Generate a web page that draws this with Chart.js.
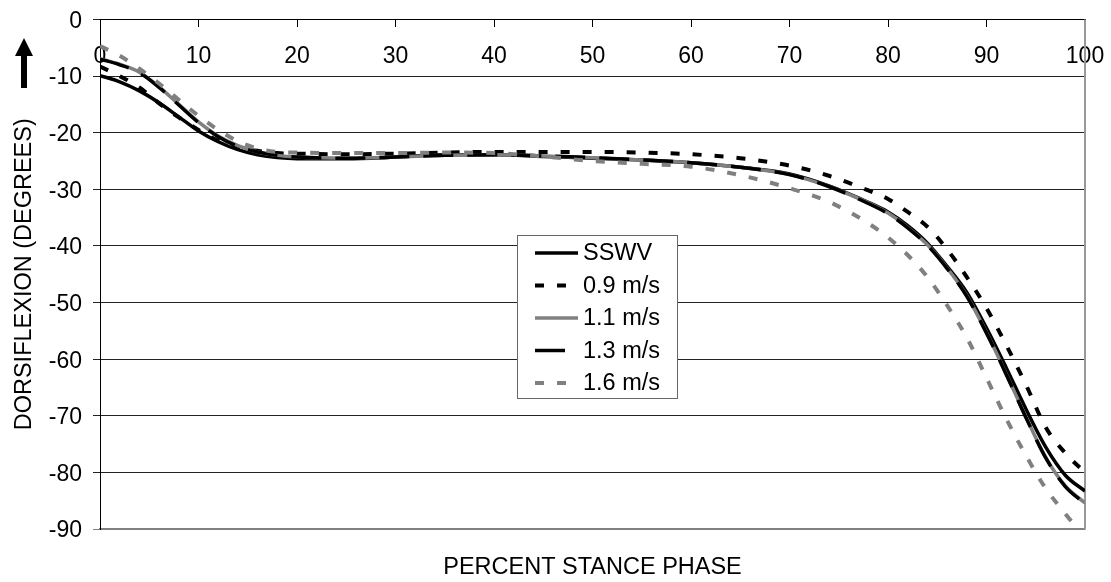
<!DOCTYPE html>
<html>
<head>
<meta charset="utf-8">
<script src="https://cdn.jsdelivr.net/npm/chart.js@4.4.1/dist/chart.umd.min.js"></script>
<style>
  html, body { margin: 0; padding: 0; background: #fff; }
</style>
</head>
<body>
<canvas id="grafico" width="1111" height="582"></canvas>
<script>
// DATOS
const pct = [0, 2, 4, 6, 8, 10, 12, 14, 16, 18, 20, 25, 30, 35, 40, 45, 50, 55, 60, 65, 70, 74, 78, 80, 82, 84, 86, 88, 90, 92, 94, 96, 98, 100];

const sswv = [-9.9, -11.0, -12.6, -14.7, -17.2, -19.7, -21.6, -23.0, -23.9, -24.4, -24.6, -24.6, -24.3, -23.9, -23.9, -24.2, -24.5, -24.8, -25.3, -26.1, -27.3, -29.4, -32.3, -34.0, -36.4, -39.5, -43.6, -48.2, -54.5, -61.5, -68.8, -75.5, -80.5, -83.3];
const v09 = [-8.3, -10.0, -12.0, -14.8, -17.3, -19.5, -21.4, -22.6, -23.2, -23.6, -23.7, -23.8, -23.7, -23.5, -23.4, -23.4, -23.4, -23.5, -23.8, -24.5, -25.8, -27.6, -30.2, -31.7, -34.0, -36.6, -40.6, -45.5, -51.0, -57.5, -64.5, -72.0, -76.6, -80.0];
const v11 = [-6.9, -7.9, -9.3, -11.9, -15.0, -18.1, -20.6, -22.3, -23.4, -24.0, -24.3, -24.5, -24.3, -24.0, -23.9, -24.1, -24.4, -24.8, -25.3, -26.1, -27.4, -29.5, -32.4, -34.2, -36.7, -39.8, -43.9, -48.8, -55.3, -62.6, -70.2, -77.3, -82.4, -85.4];
const v13 = [-7.0, -8.0, -9.4, -12.0, -15.1, -18.2, -20.7, -22.4, -23.4, -24.0, -24.3, -24.5, -24.3, -24.0, -23.9, -24.1, -24.4, -24.8, -25.3, -26.1, -27.4, -29.5, -32.5, -34.3, -36.8, -39.9, -44.0, -48.9, -55.4, -62.7, -70.3, -77.4, -82.5, -85.5];
const v16 = [-4.7, -6.4, -8.7, -11.3, -14.2, -17.0, -19.5, -21.5, -22.8, -23.4, -23.5, -23.6, -23.6, -23.5, -23.6, -24.2, -25.0, -25.5, -26.0, -27.5, -29.8, -32.2, -36.0, -38.5, -41.6, -45.5, -50.5, -56.2, -63.3, -70.5, -77.0, -82.8, -87.3, -91.5];

const etiquetas = ["SSWV", "0.9 m/s", "1.1 m/s", "1.3 m/s", "1.6 m/s"];
const valores = [sswv, v09, v11, v13, v16];

// ESTILOS DE LAS LINEAS
const estilos = [
  { color: "#000000", width: 3.5, dash: [] },
  { color: "#000000", width: 4, dash: [9, 13] },
  { color: "#808080", width: 3.5, dash: [] },
  { color: "#000000", width: 3.5, dash: [30, 14] },
  { color: "#808080", width: 4, dash: [9, 13] },
];

const FAMILIA = '"Liberation Sans", Arial, sans-serif';
Chart.defaults.font.family = FAMILIA;
Chart.defaults.font.size = 23;
Chart.defaults.color = "#000";

const datasets = etiquetas.map((label, i) => ({
  label,
  data: pct.map((p, j) => ({ x: p, y: valores[i][j] })),
  borderColor: estilos[i].color,
  borderWidth: estilos[i].width,
  borderDash: estilos[i].dash,
  pointRadius: 0,
  fill: false,
  cubicInterpolationMode: "monotone",
  order: etiquetas.length - i,
}));

// borde derecho del area del grafico
const bordePlot = {
  id: "bordePlot",
  beforeDatasetsDraw(chart) {
    const { ctx, chartArea: a } = chart;
    ctx.save();
    ctx.strokeStyle = "#999";
    ctx.lineWidth = 2;
    ctx.beginPath();
    ctx.moveTo(a.right, a.top);
    ctx.lineTo(a.right, a.bottom);
    ctx.stroke();
    ctx.restore();
  },
};

// leyenda dentro del grafico
const leyenda = {
  id: "leyenda",
  afterDatasetsDraw(chart) {
    const ctx = chart.ctx;
    const x = 517.5, y = 235.5, w = 160, h = 163;
    ctx.save();
    ctx.fillStyle = "#fff";
    ctx.fillRect(x, y, w, h);
    ctx.strokeStyle = "#666";
    ctx.lineWidth = 1;
    ctx.strokeRect(x, y, w, h);
    chart.data.datasets.forEach((ds, i) => {
      const yy = 253 + i * 32.5;
      ctx.strokeStyle = ds.borderColor;
      ctx.lineWidth = ds.borderWidth;
      ctx.setLineDash(ds.borderDash || []);
      ctx.beginPath();
      ctx.moveTo(535, yy);
      ctx.lineTo(578, yy);
      ctx.stroke();
      ctx.setLineDash([]);
      ctx.fillStyle = "#000";
      ctx.font = "23.5px " + FAMILIA;
      ctx.textBaseline = "middle";
      ctx.fillText(ds.label, 583, yy + 1);
    });
    ctx.restore();
  },
};

// flecha encima del titulo del eje Y
const flecha = {
  id: "flecha",
  afterDraw(chart) {
    const ctx = chart.ctx;
    const cx = 24;
    ctx.save();
    ctx.fillStyle = "#000";
    ctx.beginPath();
    ctx.moveTo(cx, 38);
    ctx.lineTo(cx + 9, 56);
    ctx.lineTo(cx + 3, 56);
    ctx.lineTo(cx + 3, 88);
    ctx.lineTo(cx - 3, 88);
    ctx.lineTo(cx - 3, 56);
    ctx.lineTo(cx - 9, 56);
    ctx.closePath();
    ctx.fill();
    ctx.restore();
  },
};

const context = document.getElementById("grafico").getContext("2d");
const line = new Chart(context, {
  type: "line",
  data: { datasets },
  plugins: [bordePlot, leyenda, flecha],
  options: {
    responsive: false,
    animation: false,
    layout: { padding: { top: 19.5, right: 26, bottom: 0, left: 0 } },
    plugins: { legend: { display: false }, tooltip: { enabled: false } },
    scales: {
      x: {
        type: "linear",
        position: "bottom",
        min: 0,
        max: 100,
        ticks: { display: false },
        grid: { display: false },
        border: { color: "#808080", width: 1.5 },
        title: {
          display: true,
          text: "PERCENT STANCE PHASE",
          font: { size: 23.5 },
          padding: { top: 0, bottom: 0 },
        },
        afterFit: (s) => { s.height = 53; },
      },
      x2: {
        type: "linear",
        position: { y: 0 },
        min: 0,
        max: 100,
        ticks: { stepSize: 10, padding: 16.5 },
        grid: { drawOnChartArea: false, tickLength: 7, color: "#000" },
        border: { color: "#000" },
        afterFit: (s) => {
          s.height = 0;
          s.paddingLeft = 0;
          s.paddingRight = 0;
        },
      },
      y: {
        min: -90,
        max: 0,
        ticks: { stepSize: 10, padding: 11, labelOffset: 2 },
        grid: {
          color: (c) => (c.tick && c.tick.value === -90 ? "#808080" : "#222"),
          tickLength: 7,
        },
        border: { color: "#000" },
        title: {
          display: true,
          text: "DORSIFLEXION (DEGREES)",
          font: { size: 23.5 },
          padding: { top: 10, bottom: 0 },
        },
        afterFit: (s) => {
          s.width = 100;
          s.paddingTop = 0;
          s.paddingBottom = 0;
        },
      },
    },
  },
});
</script>
</body>
</html>
